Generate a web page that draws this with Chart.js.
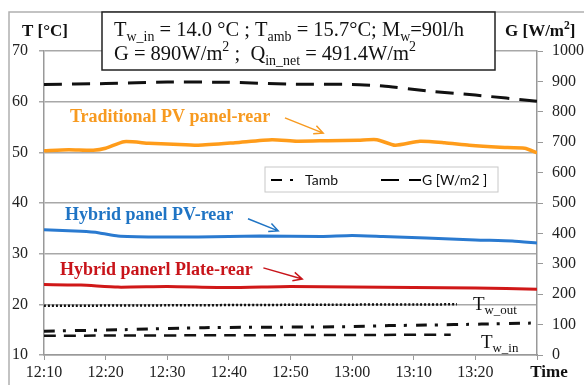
<!DOCTYPE html>
<html>
<head>
<meta charset="utf-8">
<script src="https://cdn.jsdelivr.net/npm/chart.js@4.4.1/dist/chart.umd.min.js"></script>
<style>
  html, body { margin: 0; padding: 0; background: #fff; }
</style>
</head>
<body>
<canvas id="chart" width="584" height="385"></canvas>
<script>
// minutes after 12:10
const timeTicks = ["12:10", "12:20", "12:30", "12:40", "12:50", "13:00", "13:10", "13:20"];

const tradTime = [0, 4, 8, 10, 13, 17, 21, 25, 31, 37, 41, 46, 51, 54, 57, 61, 65, 69, 74, 78, 80];
const tradTemp = [50.3, 50.5, 50.4, 50.8, 52.1, 51.8, 51.6, 51.4, 51.9, 52.5, 52.2, 52.3, 52.4, 52.5, 51.4, 52.2, 51.9, 51.4, 51.0, 50.8, 49.9];

const hybTime = [0, 6, 9, 12, 18, 25, 35, 45, 50, 55, 62, 70, 76, 80];
const hybTemp = [34.7, 34.4, 34.1, 33.5, 33.3, 33.3, 33.5, 33.4, 33.6, 33.4, 33.1, 32.7, 32.5, 32.1];

const plateTime = [0, 6, 12, 20, 30, 40, 50, 60, 70, 80];
const plateTemp = [23.9, 23.8, 23.4, 23.5, 23.3, 23.5, 23.4, 23.3, 23.2, 23.0];

const outTime = [0, 20, 40, 67];
const outTemp = [19.7, 19.8, 19.9, 20.0];

const ambTime = [0, 13, 26, 40, 50, 56, 62, 71, 79];
const ambTemp = [14.7, 15.0, 15.4, 15.5, 15.6, 15.8, 15.9, 16.1, 16.3];

const inTime = [0, 30, 66];
const inTemp = [13.8, 13.9, 14.0];

const gTime = [0, 10, 20, 30, 40, 50, 55, 62, 70, 80];
const gVal = [890, 893, 898, 897, 891, 890, 885, 869, 855, 835];

const SERIF = "'Liberation Serif', 'Times New Roman', serif";

function pts(xs, ys) {
    return xs.map((x, i) => ({ x: x, y: ys[i] }));
}

// text with sub/superscripts: parts = [[text, 0 normal | 1 sub | 2 sup]]
function drawRich(ctx, x, y, parts, size, weight) {
    weight = weight || "normal";
    parts.forEach(p => {
        let s = p[1] ? size * 0.68 : size;
        let dy = p[1] === 1 ? size * 0.3 : (p[1] === 2 ? -size * 0.35 : 0);
        ctx.font = weight + " " + s + "px " + SERIF;
        ctx.fillText(p[0], x, y + dy);
        x += ctx.measureText(p[0]).width;
    });
}

const notes = [
    { text: "Traditional PV panel-rear", color: "#f79a20", t: 4.2, v: 57.0, arrow: [39.1, 56.8, 45.3, 53.8] },
    { text: "Hybrid panel PV-rear", color: "#1f74c4", t: 3.4, v: 37.65, arrow: [33.1, 36.9, 38.0, 34.5] },
    { text: "Hybrid panerl Plate-rear", color: "#c8141a", t: 2.6, v: 26.8, arrow: [35.6, 27.2, 41.9, 25.0] }
];

const decor = {
    id: "decor",
    afterDraw(chart) {
        const ctx = chart.ctx;
        const xs = chart.scales.x, ys = chart.scales.y;
        ctx.save();

        // outer frame
        ctx.strokeStyle = "#b0b0b0";
        ctx.lineWidth = 1.5;
        ctx.beginPath();
        ctx.moveTo(9, 385); ctx.lineTo(9, 12); ctx.lineTo(584, 12);
        ctx.stroke();

        // info box
        ctx.fillStyle = "#fff";
        ctx.fillRect(102, 12, 393, 58);
        ctx.strokeStyle = "#222";
        ctx.lineWidth = 1.5;
        ctx.strokeRect(102, 12, 393, 58);
        ctx.fillStyle = "#111";
        ctx.textBaseline = "middle";
        ctx.textAlign = "left";
        drawRich(ctx, 114, 31, [["T", 0], ["w_in", 1], [" = 14.0 °C ; T", 0], ["amb", 1], [" = 15.7°C; M", 0], ["w", 1], ["=90l/h", 0]], 20.5);
        drawRich(ctx, 114, 55, [["G = 890W/m", 0], ["2", 2], [" ;  Q", 0], ["in_net", 1], [" = 491.4W/m", 0], ["2", 2]], 20.5);

        // axis titles
        drawRich(ctx, 22, 32, [["T [°C]", 0]], 17, "bold");
        drawRich(ctx, 505, 32, [["G [W/m", 0], ["2", 2], ["]", 0]], 17, "bold");
        ctx.textAlign = "center";
        ctx.font = "bold 17px " + SERIF;
        ctx.fillText("Time", 549, 373);
        ctx.textAlign = "left";

        // legend
        ctx.fillStyle = "#fff";
        ctx.fillRect(265, 167, 233, 25);
        ctx.strokeStyle = "#c8c8c8";
        ctx.lineWidth = 1;
        ctx.strokeRect(265, 167, 233, 25);
        const amb = chart.data.datasets[5], g = chart.data.datasets[6];
        ctx.strokeStyle = "#000";
        ctx.lineWidth = 2;
        ctx.setLineDash(amb.borderDash);
        ctx.beginPath(); ctx.moveTo(271, 180); ctx.lineTo(300, 180); ctx.stroke();
        ctx.setLineDash(g.borderDash);
        ctx.beginPath(); ctx.moveTo(381, 180); ctx.lineTo(421, 180); ctx.stroke();
        ctx.setLineDash([]);
        ctx.fillStyle = "#111";
        ctx.font = "14px Lato, 'Open Sans', sans-serif";
        ctx.fillText("Tamb", 305, 180);
        ctx.fillText("G [W/m2 ]", 422, 180);

        // series labels and arrows
        notes.forEach(n => {
            ctx.fillStyle = n.color;
            ctx.strokeStyle = n.color;
            ctx.font = "bold 18px " + SERIF;
            ctx.fillText(n.text, xs.getPixelForValue(n.t), ys.getPixelForValue(n.v));
            const x1 = xs.getPixelForValue(n.arrow[0]), y1 = ys.getPixelForValue(n.arrow[1]);
            const x2 = xs.getPixelForValue(n.arrow[2]), y2 = ys.getPixelForValue(n.arrow[3]);
            const a = Math.atan2(y2 - y1, x2 - x1);
            ctx.lineWidth = 1.5;
            ctx.beginPath();
            ctx.moveTo(x1, y1); ctx.lineTo(x2, y2);
            ctx.moveTo(x2 - 10 * Math.cos(a - 0.45), y2 - 10 * Math.sin(a - 0.45));
            ctx.lineTo(x2, y2);
            ctx.lineTo(x2 - 10 * Math.cos(a + 0.45), y2 - 10 * Math.sin(a + 0.45));
            ctx.stroke();
        });

        // water temperature labels
        ctx.fillStyle = "#111";
        drawRich(ctx, xs.getPixelForValue(69.6), ys.getPixelForValue(19.9), [["T", 0], ["w_out", 1]], 19);
        drawRich(ctx, xs.getPixelForValue(70.9), ys.getPixelForValue(12.4), [["T", 0], ["w_in", 1]], 19);
        ctx.restore();
    }
};

new Chart(document.getElementById("chart"), {
    type: "line",
    data: {
        datasets: [
            { label: "Traditional PV panel-rear", data: pts(tradTime, tradTemp), borderColor: "#ff9c1a", borderWidth: 3.5, yAxisID: "y" },
            { label: "Hybrid panel PV-rear", data: pts(hybTime, hybTemp), borderColor: "#2a7ad0", borderWidth: 3, yAxisID: "y" },
            { label: "Hybrid panerl Plate-rear", data: pts(plateTime, plateTemp), borderColor: "#d01818", borderWidth: 3, yAxisID: "y" },
            { label: "Tw_out", data: pts(outTime, outTemp), borderColor: "#111", borderWidth: 2.5, borderDash: [2, 2], yAxisID: "y" },
            { label: "Tw_in", data: pts(inTime, inTemp), borderColor: "#111", borderWidth: 2.5, borderDash: [12, 8], yAxisID: "y" },
            { label: "Tamb", data: pts(ambTime, ambTemp), borderColor: "#111", borderWidth: 3, borderDash: [11, 8, 3, 9], yAxisID: "y" },
            { label: "G [W/m2 ]", data: pts(gTime, gVal), borderColor: "#111", borderWidth: 3, borderDash: [18, 10], yAxisID: "y2" }
        ]
    },
    options: {
        responsive: false,
        animation: false,
        devicePixelRatio: 1,
        elements: { point: { radius: 0 }, line: { tension: 0.2, fill: false } },
        layout: { padding: { top: 51, left: 0, right: 0, bottom: 0 } },
        plugins: { legend: { display: false }, tooltip: { enabled: false } },
        scales: {
            x: {
                type: "linear", min: 0, max: 80,
                afterFit: s => { s.height = 30; },
                grid: { drawOnChartArea: false, tickLength: 5, color: "#999" },
                border: { color: "#999", width: 1.5 },
                ticks: {
                    stepSize: 10, padding: 3, maxRotation: 0, color: "#222",
                    font: { family: SERIF, size: 16 },
                    callback: v => timeTicks[v / 10] || ""
                }
            },
            y: {
                position: "left", min: 10, max: 70,
                afterFit: s => { s.width = 44; },
                grid: { color: "#a8a8a8", lineWidth: 1.5, tickLength: 5 },
                border: { color: "#999", width: 1.5 },
                ticks: { stepSize: 10, padding: 11, color: "#222", font: { family: SERIF, size: 16 } }
            },
            y2: {
                position: "right", min: 0, max: 1000,
                afterFit: s => { s.width = 47; },
                grid: { drawOnChartArea: false, color: "#999", tickLength: 6 },
                border: { color: "#999", width: 1.5 },
                ticks: { stepSize: 100, padding: 9, color: "#222", font: { family: SERIF, size: 16 }, callback: v => String(v) }
            }
        }
    },
    plugins: [decor]
});
</script>
</body>
</html>
